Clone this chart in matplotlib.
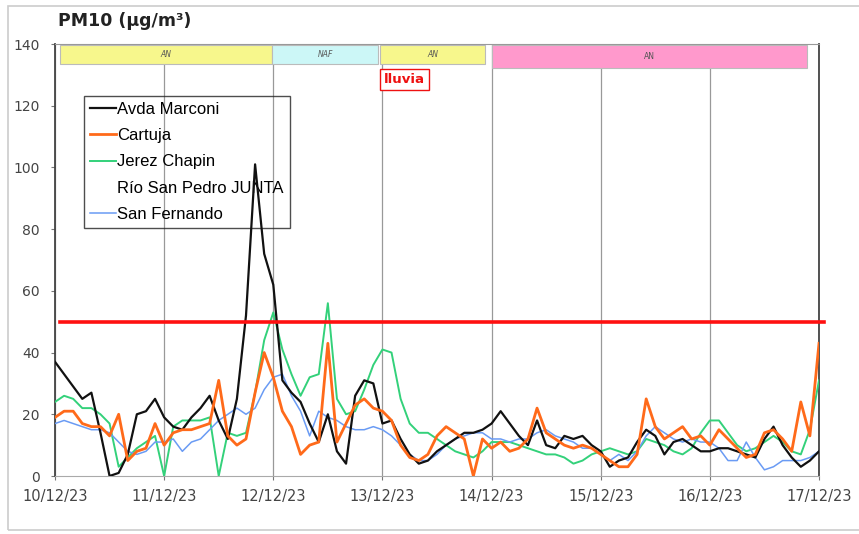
import numpy as np
import matplotlib
matplotlib.use("Agg")
import matplotlib.pyplot as plt
from matplotlib.patches import Rectangle

# PM10 every 2 hours, 10/12/23 00:00 -> 17/12/23 00:00
hours = np.arange(0, 169, 2)

avda_marconi = [37, 33, 29, 25, 27, 14, 0, 1, 7, 20, 21, 25, 19, 16, 15, 19, 22, 26, 18, 12,
                25, 52, 101, 72, 62, 31, 27, 24, 17, 11, 20, 8, 4, 26, 31, 30, 17, 18, 12, 7,
                4, 5, 8, 10, 12, 14, 14, 15, 17, 21, 17, 13, 10, 18, 10, 9, 13, 12, 13, 10,
                8, 3, 5, 6, 11, 15, 13, 7, 11, 12, 10, 8, 8, 9, 9, 8, 7, 6, 12, 16,
                10, 6, 3, 5, 8]
cartuja = [19, 21, 21, 17, 16, 16, 13, 20, 5, 8, 9, 17, 10, 14, 15, 15, 16, 17, 31, 13,
           10, 12, 27, 40, 32, 21, 16, 7, 10, 11, 43, 11, 17, 23, 25, 22, 21, 18, 10, 6,
           5, 7, 13, 16, 14, 12, 0, 12, 9, 11, 8, 9, 12, 22, 14, 12, 10, 9, 10, 9,
           7, 5, 3, 3, 7, 25, 16, 12, 14, 16, 12, 13, 10, 15, 12, 9, 6, 7, 14, 15,
           12, 8, 24, 13, 43]
jerez_chapin = [24, 26, 25, 22, 22, 20, 17, 3, 6, 9, 11, 13, 0, 16, 18, 18, 18, 19, 0, 14,
                13, 14, 27, 44, 53, 41, 33, 26, 32, 33, 56, 25, 20, 21, 28, 36, 41, 40, 25, 17,
                14, 14, 12, 10, 8, 7, 6, 8, 11, 11, 11, 10, 9, 8, 7, 7, 6, 4, 5, 7,
                8, 9, 8, 7, 8, 12, 11, 10, 8, 7, 9, 14, 18, 18, 14, 10, 8, 9, 11, 13,
                11, 8, 7, 15, 31]
rio_san_pedro = []  # drawn in white in the original, nothing visible
san_fernando = [17, 18, 17, 16, 15, 15, 14, 11, 8, 7, 8, 11, 11, 12, 8, 11, 12, 15, 18, 20,
                22, 20, 22, 28, 32, 33, 26, 21, 13, 21, 19, 18, 16, 15, 15, 16, 15, 13, 10, 7,
                5, 5, 7, 10, 12, 13, 14, 14, 12, 12, 11, 12, 12, 14, 15, 13, 12, 11, 9, 9,
                7, 5, 7, 5, 8, 13, 16, 14, 12, 11, 12, 11, 11, 9, 5, 5, 11, 6, 2, 3,
                5, 5, 5, 6, 8]

day_labels = ["10/12/23", "11/12/23", "12/12/23", "13/12/23",
              "14/12/23", "15/12/23", "16/12/23", "17/12/23"]
limit_value = 50

# episodes: (start day, end day, label, colour)
episodes = [(0.05, 1.99, "AN", "#F7F78C"),
            (1.99, 2.96, "NAF", "#CCF7F7"),
            (2.98, 3.94, "AN", "#F7F78C"),
            (4.0, 6.89, "AN", "#FF99CC")]

plt.rcParams["font.family"] = ["DejaVu Sans"]

fig = plt.figure(figsize=(8.59, 5.34), dpi=100)
ax = fig.add_axes([55 / 859, 1 - 476 / 534, 764 / 859, 432 / 534])

# light frame around the whole chart
fig.patches.append(Rectangle((8 / 859, 4 / 534), 860 / 859, 524 / 534, transform=fig.transFigure,
                             fill=False, edgecolor="#cccccc", lw=1.2))

t = hours / 24
ax.plot(t, avda_marconi, color="#111111", lw=1.6, label="Avda Marconi", zorder=4)
ax.plot(t, cartuja, color="#FF6a1a", lw=2.0, label="Cartuja", zorder=4)
ax.plot(t, jerez_chapin, color="#33D17A", lw=1.4, label="Jerez Chapin", zorder=3)
ax.plot(t[:len(rio_san_pedro)], rio_san_pedro, color="white", lw=1.5,
        label="Río San Pedro JUNTA", zorder=3)
ax.plot(t, san_fernando, color="#6A9BF4", lw=1.1, label="San Fernando", zorder=3)

ax.plot([0.05, 7.05], [limit_value, limit_value], color="#FF1010", lw=2.6,
        clip_on=False, zorder=5)

for start, end, label, col in episodes:
    top = 139.7
    bottom = 132.2 if col == "#FF99CC" else 133.5
    ax.add_patch(Rectangle((start, bottom), end - start, top - bottom, facecolor=col,
                           edgecolor="#bbbbbb", lw=0.8, zorder=2))
    ax.text((start + end) / 2, (top + bottom) / 2, label, fontsize=5.5,
            style="italic" if col != "#FF99CC" else "normal",
            color="#555555", ha="center", va="center", zorder=3)

ax.text(3.2, 128.5, "lluvia", color="#EE1111", fontsize=9.5, fontweight="bold",
        ha="center", va="center", zorder=6,
        bbox=dict(boxstyle="square,pad=0.3", facecolor="white", edgecolor="#EE1111", lw=1))

ax.set_xlim(0, 7)
ax.set_ylim(0, 140)
ax.set_xticks(range(8))
ax.set_xticklabels(day_labels)
ax.set_yticks(range(0, 141, 20))
ax.tick_params(axis="both", labelsize=10.5, labelcolor="#444444", color="#777777",
               length=3, direction="out")
ax.tick_params(axis="x", pad=6)
ax.tick_params(axis="y", labelsize=10, pad=8)
ax.xaxis.grid(True, color="#999999", lw=0.9, zorder=0)
ax.set_axisbelow(True)
for side in ["left", "right"]:
    ax.spines[side].set_color("#444444")
    ax.spines[side].set_linewidth(1.3)
ax.spines["top"].set_color("#999999")
ax.spines["bottom"].set_color("#aaaaaa")

leg = ax.legend(loc="upper left", bbox_to_anchor=(0.038, 0.88),
                prop={"family": "Liberation Sans", "size": 12},
                frameon=True, fancybox=False, handlelength=1.55, handletextpad=0.1,
                borderpad=0.35, labelspacing=0.68, borderaxespad=0)
leg.get_frame().set_facecolor("none")
leg.get_frame().set_edgecolor("#222222")
leg.get_frame().set_linewidth(1.0)
leg.set_zorder(1.5)

fig.text(58 / 859, 1 - 21 / 534, "PM10 (µg/m³)", fontsize=12.5, fontweight="bold",
         color="#222222", va="center", ha="left")

fig.savefig("out.png", dpi=100)
